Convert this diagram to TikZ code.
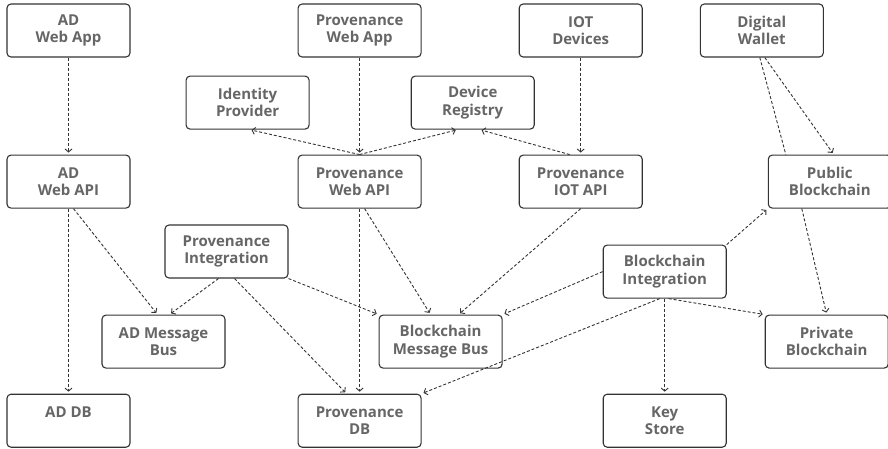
\documentclass[tikz,border=0pt]{standalone}
\usepackage{fontspec}
\setmainfont{Open Sans}
\usetikzlibrary{arrows.meta,positioning}

\definecolor{labelgray}{HTML}{666666}
\definecolor{edgegray}{HTML}{333333}

\begin{document}
\begin{tikzpicture}[
  x=1pt,y=1pt,
  n/.style={draw=edgegray,line width=1.1pt,rounded corners=4pt,align=center,
    minimum width=123pt,minimum height=53pt,inner sep=0pt,
    font=\fontsize{15}{17.5}\selectfont\bfseries,text=labelgray},
  arr/.style={edgegray,line width=0.9pt,dash pattern=on 3pt off 2pt,shorten >=2pt,
    -{Straight Barb[length=3pt,width=7pt]}},
  ln/.style={edgegray,line width=0.9pt,dash pattern=on 3pt off 2pt}
]
\useasboundingbox (0,0) rectangle (888,-448);

% top row
\node[n] (adapp) at (68.5,-30.5) {AD\\Web App};
\node[n,right=167pt of adapp] (pwebapp) {Provenance\\Web App};
\node[n,right=97pt of pwebapp] (iot) {IOT\\Devices};
\node[n,right=57pt of iot] (wallet) {Digital\\Wallet};

\node[n,below=18pt of pwebapp,xshift=-112pt] (idp) {Identity\\Provider};
\node[n,right=101pt of idp] (devreg) {Device\\Registry};

% api row
\node[n,below=97pt of adapp] (adapi) {AD\\Web API};
\node[n,below=97pt of pwebapp] (pwebapi) {Provenance\\Web API};
\node[n,below=97pt of iot] (piotapi) {Provenance\\IOT API};
\node[n,right=125pt of piotapi] (pubbc) {Public\\Blockchain};

% bottom rows
\node[n,below=185pt of adapi] (addb) {AD DB\\\mbox{}};
\node[n,below=185pt of pwebapi] (pdb) {Provenance\\DB};
\node[n,right=181pt of pdb] (keystore) {Key\\Store};
\node[n,above=95pt of keystore] (bcint) {Blockchain\\Integration};
\node[n,above=25pt of addb,xshift=95pt] (admsg) {AD Message\\Bus};
\node[n,right=153pt of admsg] (bcmsg) {Blockchain\\Message Bus};
\node[n,right=262pt of bcmsg] (privbc) {Private\\Blockchain};
\node[n,above=36pt of admsg,xshift=63pt] (pint) {Provenance\\Integration};

% AD side
\draw[arr] (adapp) -- (adapi);
\draw[arr] (adapi) -- (addb);
\draw[arr] ([xshift=5pt]adapi.south) -- ([xshift=-6pt]admsg.north);

% provenance web
\draw[arr] (pwebapp) -- (pwebapi);
\draw[arr] (pwebapi.north) -- ([xshift=2pt]idp.south);
\draw[arr] (pwebapi.north) -- ([xshift=-15pt]devreg.south);
\draw[arr] (pwebapi) -- (pdb);
\draw[arr] ([xshift=5pt]pwebapi.south) -- ([xshift=-10pt]bcmsg.north);

% iot
\draw[arr] (iot) -- (piotapi);
\draw[arr] ([xshift=-11pt]piotapi.north) -- ([xshift=7pt]devreg.south);
\draw[arr] (piotapi.south) -- ([xshift=18pt]bcmsg.north);

% provenance integration
\draw[arr] ([xshift=-8pt]pint.south) -- ([xshift=6pt]admsg.north);
\draw[arr] (pint.south east) -- (bcmsg.north west);
\draw[arr] ([xshift=8pt]pint.south) -- ([xshift=-13pt]pdb.north);

% blockchain integration
\draw[arr] (bcint.west) -- (bcmsg.north east);
\draw[arr] ([xshift=-5pt]bcint.south) -- (pdb.north east);
\draw[arr] (bcint) -- (keystore);
\draw[arr] ([xshift=4pt]bcint.south) -- (privbc.north west);
\draw[arr] (bcint.north east) -- (pubbc.south west);

% wallet and chains
\draw[ln] ([xshift=-2pt]wallet.south) -- ([xshift=-44pt]pubbc.north);
\draw[arr] ([xshift=3pt]wallet.south) -- ([xshift=4pt]pubbc.north);
\draw[arr] ([xshift=-28pt]pubbc.south) -- (privbc.north);
\end{tikzpicture}
\end{document}
